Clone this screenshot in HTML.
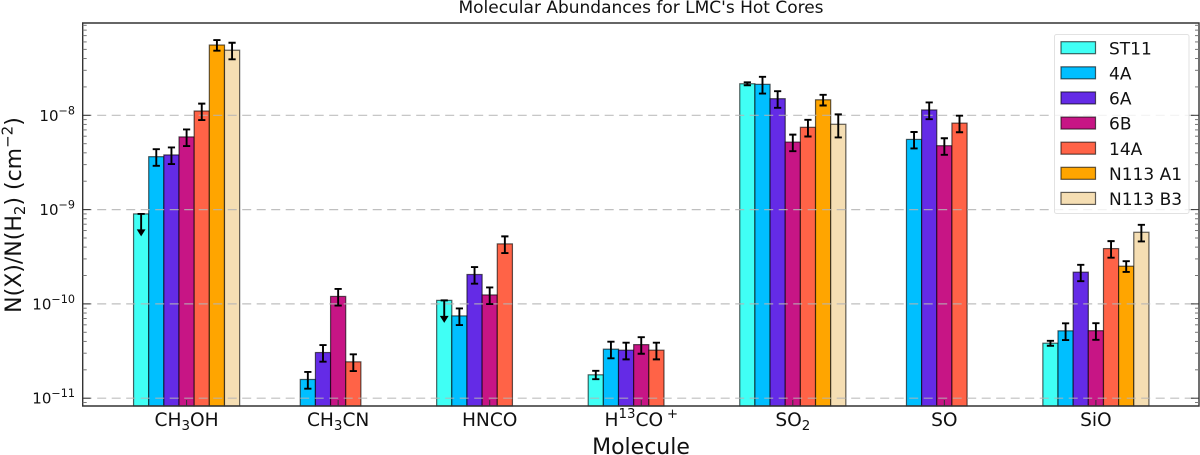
<!DOCTYPE html>
<html>
<head>
<meta charset="utf-8">
<title>Molecular Abundances for LMC's Hot Cores</title>
<style>
html,body{margin:0;padding:0;background:#fff;}
svg{display:block;font-family:"DejaVu Sans","Liberation Sans",sans-serif;filter:blur(0.3px);}
</style>
</head>
<body>
<svg id="chart" width="1200" height="455" viewBox="0 0 1200 455" xmlns="http://www.w3.org/2000/svg">
<rect width="1200" height="455" fill="#fff"/>
<text x="641" y="13" font-size="17" text-anchor="middle" fill="#111">Molecular Abundances for LMC's Hot Cores</text>
<text x="641" y="454" font-size="22" text-anchor="middle" fill="#111">Molecule</text>
<text transform="translate(21 215) rotate(-90)" font-size="22" text-anchor="middle" fill="#111">N(X)/N(H<tspan dy="4" font-size="15">2</tspan><tspan dy="-4">) (cm</tspan><tspan dy="-8.5" font-size="15">−2</tspan><tspan dy="8.5">)</tspan></text>
</svg>
<script>
var categories = ["CH_3OH", "CH_3CN", "HNCO", "H^13CO^+", "SO_2", "SO", "SiO"];
var seriesNames = ["ST11", "4A", "6A", "6B", "14A", "N113 A1", "N113 B3"];
var seriesColors = ["#40FFF5", "#00BFFF", "#642BE6", "#C71585", "#FF6347", "#FFA500", "#F5DEB3"];

var st11Values = [9.0e-10, null, 1.09e-10, 1.77e-11, 2.16e-8, null, 3.83e-11];
var a4Values = [3.64e-9, 1.58e-11, 7.46e-11, 3.31e-11, 2.13e-8, 5.55e-9, 5.18e-11];
var a6Values = [3.8e-9, 3.05e-11, 2.05e-10, 3.23e-11, 1.5e-8, 1.14e-8, 2.17e-10];
var b6Values = [5.9e-9, 1.2e-10, 1.245e-10, 3.7e-11, 5.2e-9, 4.76e-9, 5.2e-11];
var a14Values = [1.11e-8, 2.43e-11, 4.33e-10, 3.23e-11, 7.46e-9, 8.26e-9, 3.86e-10];
var n113a1Values = [5.56e-8, null, null, null, 1.46e-8, null, 2.51e-10];
var n113b3Values = [4.9e-8, null, null, null, 8.03e-9, null, 5.75e-10];

var st11Errors = [null, null, null, 1.8e-12, 8.0e-10, null, 2.3e-12];
var a4Errors = [7.3e-10, 3.2e-12, 1.5e-11, 6.6e-12, 4.3e-9, 1.1e-9, 1.04e-11];
var a6Errors = [7.6e-10, 6.1e-12, 4.1e-11, 6.5e-12, 3.0e-9, 2.3e-9, 4.3e-11];
var b6Errors = [1.18e-9, 2.4e-11, 2.5e-11, 7.4e-12, 1.04e-9, 9.5e-10, 1.04e-11];
var a14Errors = [2.2e-9, 4.9e-12, 8.7e-11, 6.5e-12, 1.5e-9, 1.65e-9, 7.7e-11];
var n113a1Errors = [7.2e-9, null, null, null, 1.9e-9, null, 3.3e-11];
var n113b3Errors = [9.8e-9, null, null, null, 2.2e-9, null, 1.15e-10];

var st11UpperLimits = [true, false, true, false, false, false, false];
var yTickExponents = [-11, -10, -9, -8];

var allValues = [st11Values, a4Values, a6Values, b6Values, a14Values, n113a1Values, n113b3Values];
var allErrors = [st11Errors, a4Errors, a6Errors, b6Errors, a14Errors, n113a1Errors, n113b3Errors];

var svg = document.getElementById('chart');
var NS = 'http://www.w3.org/2000/svg';
var L = 82.7, R = 1199, T = 23, B = 406;
var groupStep = 151.55, firstCenter = 186.6, barW = groupStep / 10;

function yScale(v) { return 115.3 + 94.3 * (-8 - Math.log10(v)); }
function xCenter(i) { return firstCenter + i * groupStep; }
function mk(tag, attrs, parent) {
  var el = document.createElementNS(NS, tag);
  for (var k in attrs) el.setAttribute(k, attrs[k]);
  (parent || svg).appendChild(el);
  return el;
}
function addRich(textEl, str, size) {
  var parts = str.match(/[_^](?:\d+|\+)|[^_^]+/g);
  var pending = 0;
  parts.forEach(function (p) {
    var t = document.createElementNS(NS, 'tspan');
    var off = 0, content = p, fs = size;
    if (p[0] === '_') { off = size * 0.22; content = p.slice(1); fs = size * 0.72; }
    if (p[0] === '^') { off = -size * 0.42; content = p.slice(1); fs = size * 0.72; }
    if (content === '+') { t.setAttribute('dx', size * 0.2); }
    t.setAttribute('font-size', fs);
    t.setAttribute('dy', pending + off);
    t.textContent = content;
    textEl.appendChild(t);
    pending = -off;
  });
}

// Bars
var barsG = mk('g', {});


allValues.forEach(function (vals, s) {
  vals.forEach(function (v, c) {
    if (v === null) return;
    var x = xCenter(c) + (s - 3.5) * barW;
    var y = yScale(v);
    var r = mk('rect', { x: x, y: y, width: barW, height: B - y, fill: seriesColors[s], stroke: '#000', 'stroke-opacity': 0.62, 'stroke-width': 1.2 }, barsG);
    
    
  });
});

// Grid lines (drawn above the bars)
var gridG = mk('g', {});


yTickExponents.forEach(function (e) {
  var y = yScale(Math.pow(10, e));
  var g = mk('line', { x1: L, x2: R, y1: y, y2: y, stroke: '#b4b4b4', 'stroke-opacity': 0.85, 'stroke-width': 1.2, 'stroke-dasharray': '9 5.5' }, gridG);
  
  
});

// Error bars
var errG = mk('g', { stroke: '#000', 'stroke-width': 1.9, fill: 'none' });


allValues.forEach(function (vals, s) {
  vals.forEach(function (v, c) {
    if (v === null) return;
    var x = xCenter(c) + (s - 3) * barW;
    var e = allErrors[s][c];
    if (s === 0 && st11UpperLimits[c]) {
      var y0 = yScale(v), tip = y0 + 22.5;
      var cap = mk('path', { d: 'M' + (x - 3.6) + ' ' + y0 + 'H' + (x + 3.6) + 'M' + x + ' ' + y0 + 'V' + (tip - 3) }, errG);
      
      
      var head = mk('path', { d: 'M' + (x - 4.4) + ' ' + (tip - 7) + 'L' + (x + 4.4) + ' ' + (tip - 7) + 'L' + x + ' ' + tip + 'Z', fill: '#000', stroke: 'none' }, errG);
      
      
      return;
    }
    if (e === null) return;
    var yu = yScale(v + e), yl = yScale(v - e);
    var p = mk('path', { d: 'M' + (x - 3.6) + ' ' + yu + 'H' + (x + 3.6) + 'M' + (x - 3.6) + ' ' + yl + 'H' + (x + 3.6) + 'M' + x + ' ' + yu + 'V' + yl }, errG);
    
    
  });
});

// Axes frame
var frame = mk('path', { d: 'M' + L + ' ' + B + 'V' + T + 'H' + R + 'V' + B + 'Z', fill: 'none', stroke: '#333', 'stroke-width': 1.4 });



// Y ticks
var yAxis = mk('g', { stroke: '#333', 'stroke-width': 1 });


for (var e = -12; e <= -8; e++) {
  for (var m = 1; m <= 9; m++) {
    var val = m * Math.pow(10, e);
    var yy = yScale(val);
    if (yy < T || yy > B) continue;
    var len = m === 1 ? 8 : 4;
    var col = m === 1 ? '#333' : '#777';
    var t1 = mk('line', { x1: L, x2: L + len, y1: yy, y2: yy, stroke: col }, yAxis);
    
    
    var t2 = mk('line', { x1: R - len, x2: R, y1: yy, y2: yy, stroke: col }, yAxis);
    
    
  }
}
yTickExponents.forEach(function (e) {
  var y = yScale(Math.pow(10, e));
  var t = mk('text', { x: 75, y: y + 5.5, 'text-anchor': 'end', 'font-size': 15, fill: '#111' });
  
  
  var a = document.createElementNS(NS, 'tspan');
  a.textContent = '10';
  t.appendChild(a);
  var b = document.createElementNS(NS, 'tspan');
  b.setAttribute('dy', -6.5);
  b.setAttribute('font-size', 11.2);
  b.textContent = '\u2212' + Math.abs(e);
  t.appendChild(b);
});

// X ticks + labels
categories.forEach(function (name, i) {
  var x = xCenter(i);
  var tk = mk('line', { x1: x, x2: x, y1: B - 6, y2: B, stroke: '#333', 'stroke-width': 1 });
  
  
  var t = mk('text', { x: x, y: 426, 'text-anchor': 'middle', 'font-size': 18.6, fill: '#111' });
  
  
  addRich(t, name, 18.6);
});

// Legend
var lg = mk('g', {});


var lgBox = mk('rect', { x: 1054.5, y: 34.5, width: 134.5, height: 179, rx: 2, fill: '#fff', 'fill-opacity': 0.8, stroke: '#e2e2e2', 'stroke-width': 1 }, lg);


seriesNames.forEach(function (n, i) {
  var y = 41.7 + i * 25.12;
  var sw = mk('rect', { x: 1061, y: y, width: 34.5, height: 12, fill: seriesColors[i], stroke: '#000', 'stroke-opacity': 0.62, 'stroke-width': 1.2 }, lg);
  
  
  var t = mk('text', { x: 1109, y: y + 12.6, 'font-size': 17, fill: '#111' }, lg);
  
  
  t.textContent = n;
});
</script>
</body>
</html>
